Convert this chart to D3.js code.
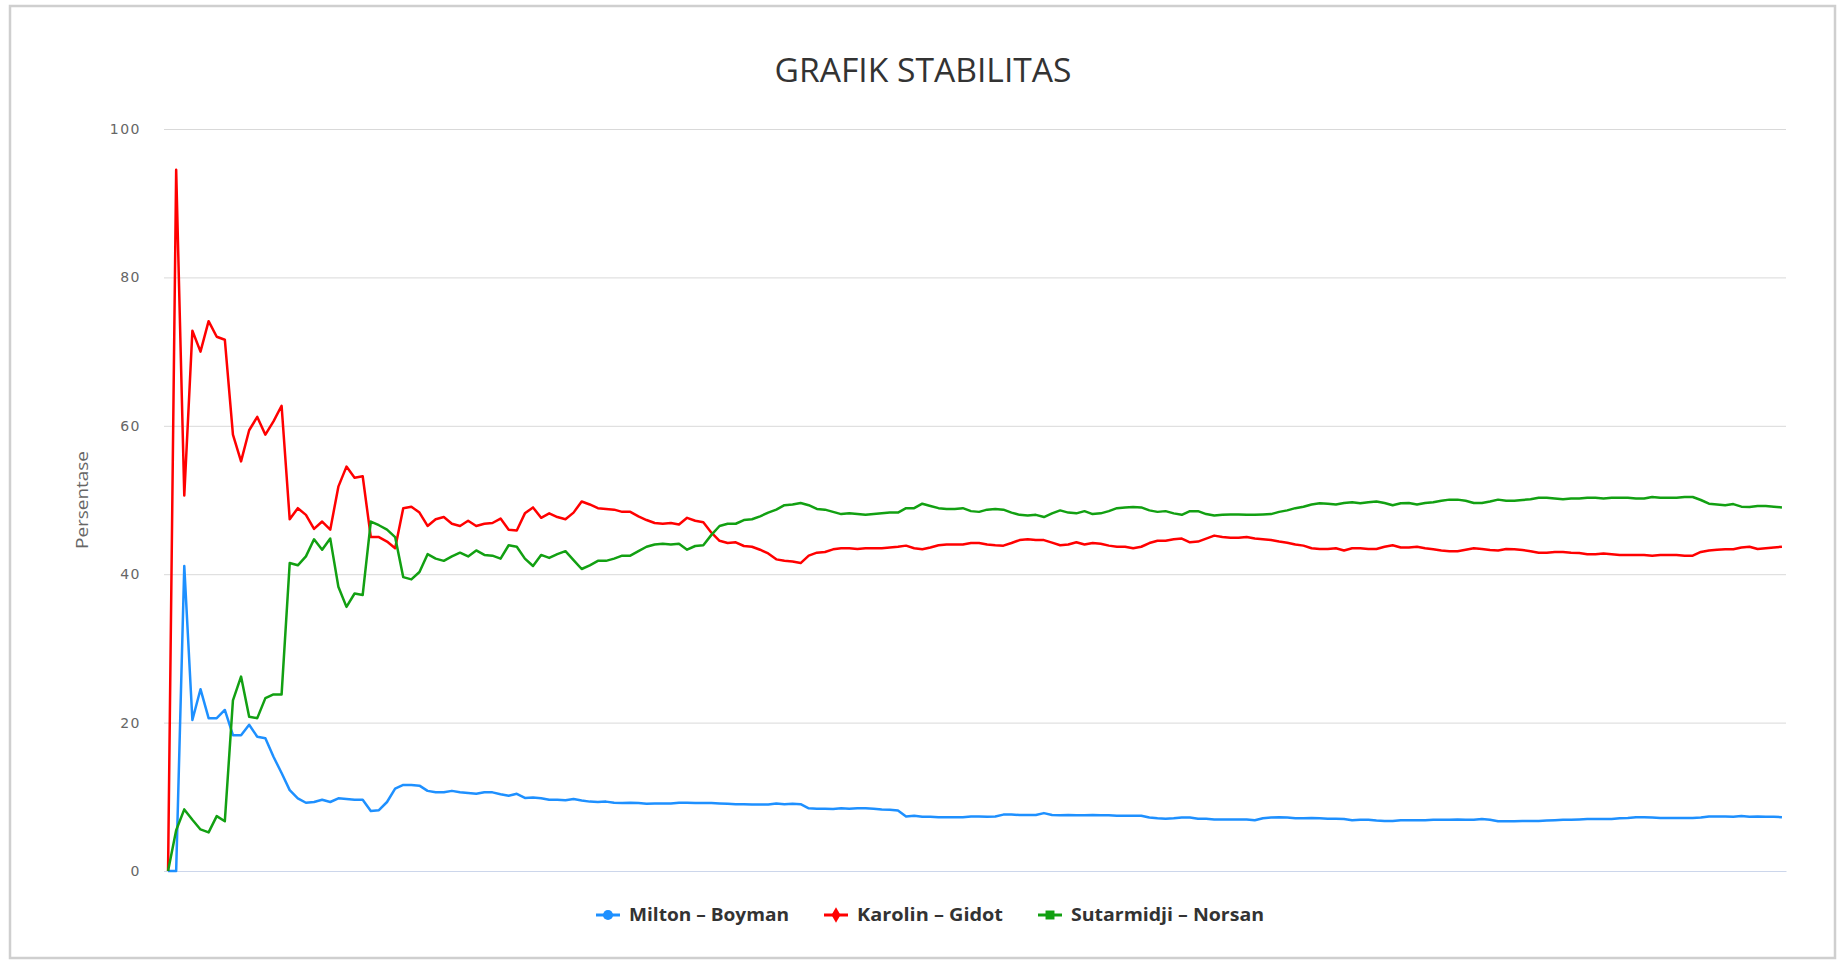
<html>
<head>
  <script src="https://d3js.org/d3.v7.min.js"></script>
  <style>
    body {
      margin: 0;
      background-color: #fff;
    }
    .grid line {
      stroke: #d9d9d9;
      stroke-width: 1px;
    }
    .grid .domain {
      display: none;
    }
    .grid text {
      font-family: "DejaVu Sans";
      font-size: 14px;
      letter-spacing: 1.5px;
      fill: #666;
    }
    .line {
      fill: none;
      stroke-width: 2.5px;
      stroke-linejoin: round;
    }
  </style>
</head>
<body>
  <svg width="1839" height="961"></svg>

  <script>
    // data
    var seriesNames = ["Milton \u2013 Boyman", "Karolin \u2013 Gidot", "Sutarmidji \u2013 Norsan"];
    var seriesColors = ["#1e90ff", "#ff0000", "#12a012"];
    var yTicks = [0, 20, 40, 60, 80, 100];

    var milton = [
      0, 0, 41.1, 20.35, 24.5, 20.6, 20.6, 21.7, 18.3, 18.3,
      19.7, 18.1, 17.9, 15.4, 13.2, 10.9, 9.8, 9.2, 9.3, 9.6,
      9.3, 9.8, 9.7, 9.6, 9.6, 8.1, 8.2, 9.3, 11.1, 11.6,
      11.6, 11.5, 10.8, 10.6, 10.6, 10.8, 10.6, 10.5, 10.4, 10.6,
      10.6, 10.35, 10.15, 10.4, 9.85, 9.9, 9.8, 9.6, 9.6, 9.55,
      9.7, 9.5, 9.35, 9.3, 9.35, 9.2, 9.15, 9.2, 9.15, 9.05,
      9.1, 9.1, 9.1, 9.2, 9.2, 9.15, 9.15, 9.15, 9.1, 9.05,
      9.0, 9.0, 8.95, 8.95, 8.95, 9.1, 9.0, 9.05, 9.0, 8.45,
      8.4, 8.4, 8.35, 8.45, 8.4, 8.45, 8.45, 8.4, 8.3, 8.25,
      8.15, 7.35, 7.45, 7.3, 7.3, 7.25, 7.25, 7.25, 7.25, 7.35,
      7.35, 7.3, 7.35, 7.6, 7.6, 7.55, 7.55, 7.55, 7.8, 7.55,
      7.5, 7.55, 7.5, 7.5, 7.55, 7.5, 7.5, 7.45, 7.45, 7.45,
      7.45, 7.2, 7.1, 7.05, 7.1, 7.2, 7.2, 7.05, 7.05, 6.95,
      6.95, 6.95, 6.95, 6.95, 6.85, 7.1, 7.2, 7.25, 7.2, 7.1,
      7.1, 7.15, 7.1, 7.05, 7.05, 7.0, 6.85, 6.9, 6.9, 6.8,
      6.75, 6.75, 6.85, 6.85, 6.85, 6.85, 6.9, 6.9, 6.9, 6.95,
      6.9, 6.9, 7.0, 6.9, 6.7, 6.7, 6.7, 6.75, 6.75, 6.75,
      6.8, 6.85, 6.9, 6.9, 6.95, 7.0, 7.0, 7.0, 7.0, 7.1,
      7.15, 7.25, 7.25, 7.2, 7.15, 7.15, 7.15, 7.15, 7.15, 7.2,
      7.35, 7.35, 7.35, 7.3, 7.4, 7.3, 7.35, 7.3, 7.3, 7.25
    ];

    var karolin = [
      0, 94.5, 50.6, 72.8, 70.0, 74.1, 72.0, 71.6, 58.8, 55.2,
      59.4, 61.2, 58.8, 60.6, 62.7, 47.4, 48.9, 48.0, 46.1, 47.1,
      46.0, 51.8, 54.5, 53.0, 53.2, 45.0, 45.0, 44.4, 43.5, 48.9,
      49.1, 48.3, 46.5, 47.4, 47.7, 46.8, 46.5, 47.2, 46.5, 46.8,
      46.9, 47.5, 46.0, 45.9, 48.2, 49.0, 47.6, 48.2, 47.7, 47.4,
      48.3, 49.8, 49.4, 48.9, 48.8, 48.7, 48.4, 48.4, 47.8, 47.3,
      46.9, 46.8, 46.9, 46.7, 47.6, 47.2, 47.0, 45.6, 44.5, 44.2,
      44.3, 43.8, 43.7, 43.3, 42.8, 42.0, 41.8, 41.7, 41.5, 42.5,
      42.9, 43.0, 43.35, 43.5, 43.5, 43.4, 43.5, 43.5, 43.5, 43.6,
      43.7, 43.85, 43.5, 43.35, 43.6, 43.9, 44.0, 44.0, 44.0, 44.2,
      44.2, 44.0, 43.9, 43.85, 44.2, 44.6, 44.7, 44.6, 44.6, 44.25,
      43.9, 44.0, 44.3, 44.0, 44.2, 44.1, 43.85, 43.7, 43.7, 43.5,
      43.7, 44.2, 44.5, 44.5, 44.7, 44.8, 44.3, 44.4, 44.8, 45.2,
      45.0, 44.9, 44.9, 45.0, 44.8, 44.7, 44.6, 44.4, 44.25, 44.0,
      43.85, 43.5, 43.4, 43.4, 43.5, 43.2, 43.5, 43.5, 43.4, 43.4,
      43.7, 43.9, 43.6, 43.6, 43.7, 43.5, 43.35, 43.2, 43.1, 43.1,
      43.3, 43.5, 43.4, 43.25, 43.2, 43.4, 43.35, 43.25, 43.1, 42.9,
      42.9, 43.0, 43.0, 42.9, 42.85, 42.7, 42.7, 42.8, 42.7, 42.6,
      42.6, 42.6, 42.6, 42.5, 42.6, 42.6, 42.6, 42.5, 42.5, 43.0,
      43.2, 43.3, 43.35, 43.35, 43.6, 43.7, 43.4, 43.5, 43.6, 43.7
    ];

    var sutarmidji = [
      0, 5.5, 8.3, 6.9, 5.6, 5.2, 7.4, 6.7, 23.0, 26.2,
      20.8, 20.6, 23.3, 23.8, 23.8, 41.5, 41.2, 42.4, 44.7, 43.3,
      44.8, 38.3, 35.6, 37.4, 37.2, 47.1, 46.6, 46.0, 45.0, 39.6,
      39.3, 40.3, 42.7, 42.1, 41.8, 42.4, 42.9, 42.4, 43.2, 42.6,
      42.5, 42.1, 43.9, 43.7, 42.1, 41.1, 42.6, 42.2, 42.7, 43.1,
      41.9, 40.7, 41.2, 41.8, 41.8, 42.1, 42.5, 42.5, 43.1, 43.7,
      44.0, 44.1, 44.0, 44.1, 43.3, 43.8, 43.9, 45.3, 46.5, 46.8,
      46.8, 47.3, 47.4, 47.8, 48.3, 48.7, 49.3, 49.4, 49.6, 49.3,
      48.8, 48.7, 48.4, 48.1, 48.2, 48.1, 48.0, 48.1, 48.2, 48.3,
      48.3, 48.9, 48.9, 49.5, 49.2, 48.9, 48.8, 48.8, 48.9, 48.5,
      48.4, 48.7, 48.8, 48.7, 48.3, 48.0, 47.9, 48.0, 47.7, 48.2,
      48.6, 48.3, 48.2, 48.5, 48.1, 48.2, 48.5, 48.9, 49.0, 49.05,
      49.0, 48.6, 48.4, 48.5, 48.2, 48.0, 48.5, 48.5, 48.1, 47.9,
      48.0, 48.05, 48.05, 48.0, 48.0, 48.05, 48.1, 48.4, 48.6, 48.9,
      49.1, 49.4, 49.55, 49.5, 49.4, 49.6, 49.7, 49.55, 49.7, 49.8,
      49.6, 49.3, 49.55, 49.6, 49.4, 49.6, 49.7, 49.9, 50.05, 50.05,
      49.9, 49.6, 49.6, 49.8, 50.05, 49.9, 49.9, 50.0, 50.1, 50.3,
      50.3, 50.2, 50.1, 50.2, 50.2, 50.3, 50.3, 50.2, 50.3, 50.3,
      50.3, 50.2, 50.2, 50.4, 50.3, 50.3, 50.3, 50.4, 50.4, 50.0,
      49.5, 49.4, 49.3, 49.45, 49.1, 49.05, 49.2, 49.2, 49.1, 49.0
    ];

    var series = [milton, karolin, sutarmidji];

    var svg = d3.select("svg"),
        plot = {left: 164, right: 1786, top: 129, bottom: 871};

    // chart frame
    svg.append("rect")
        .attr("x", 10)
        .attr("y", 6)
        .attr("width", 1825)
        .attr("height", 952)
        .attr("fill", "#fff")
        .attr("stroke", "#cfcfcf")
        .attr("stroke-width", 2.5);

    svg.append("text")
        .attr("x", 923)
        .attr("y", 82)
        .attr("text-anchor", "middle")
        .attr("textLength", 297)
        .attr("lengthAdjust", "spacingAndGlyphs")
        .style("font-family", "Open Sans")
        .style("font-size", "33px")
        .style("fill", "#333")
        .text("GRAFIK STABILITAS");

    var x = d3.scalePoint()
        .domain(d3.range(milton.length))
        .range([plot.left, plot.right])
        .padding(0.5);

    var y = d3.scaleLinear()
        .domain([0, 100])
        .range([plot.bottom, plot.top]);

    svg.append("g")
        .attr("class", "grid")
        .attr("transform", "translate(" + plot.left + ",0)")
        .call(d3.axisLeft(y)
          .tickValues(yTicks)
          .tickSize(-(plot.right - plot.left))
          .tickPadding(23));

    svg.append("g")
        .attr("transform", "translate(0," + plot.bottom + ")")
        .call(d3.axisBottom(x).tickValues([]).tickSizeOuter(0))
        .select(".domain")
          .attr("stroke", "#ccd6eb");

    svg.append("text")
        .attr("transform", "translate(" + 88 + "," + 500 + ") rotate(-90)")
        .attr("text-anchor", "middle")
        .attr("textLength", 98)
        .attr("lengthAdjust", "spacingAndGlyphs")
        .style("font-family", "Open Sans")
        .style("font-size", "16px")
        .style("fill", "#666")
        .text("Persentase");

    var line = d3.line()
        .x(function(d, i) { return x(i); })
        .y(function(d) { return y(d); });

    svg.selectAll(".line")
      .data(series)
      .enter().append("path")
        .attr("class", "line")
        .attr("stroke", function(d, i) { return seriesColors[i]; })
        .attr("d", line);

    // legend
    var legendX = [608, 836, 1050],
        legendW = [160, 146, 193];

    var item = svg.selectAll(".legend")
      .data(seriesNames)
      .enter().append("g")
        .attr("class", "legend")
        .attr("transform", function(d, i) { return "translate(" + legendX[i] + ",915)"; });

    item.append("line")
        .attr("x1", -12)
        .attr("x2", 12)
        .attr("stroke", function(d, i) { return seriesColors[i]; })
        .attr("stroke-width", 3);

    item.append("path")
        .attr("d", function(d, i) {
          var sym = [d3.symbolCircle, d3.symbolDiamond, d3.symbolSquare][i];
          return d3.symbol().type(sym).size(i == 1 ? 70 : 80)();
        })
        .attr("fill", function(d, i) { return seriesColors[i]; });

    item.append("text")
        .attr("x", 21)
        .attr("dy", "0.35em")
        .attr("textLength", function(d, i) { return legendW[i]; })
        .attr("lengthAdjust", "spacingAndGlyphs")
        .style("font-family", "Open Sans")
        .style("font-weight", "bold")
        .style("font-size", "18px")
        .style("fill", "#333")
        .text(function(d) { return d; });
  </script>
</body>
</html>
